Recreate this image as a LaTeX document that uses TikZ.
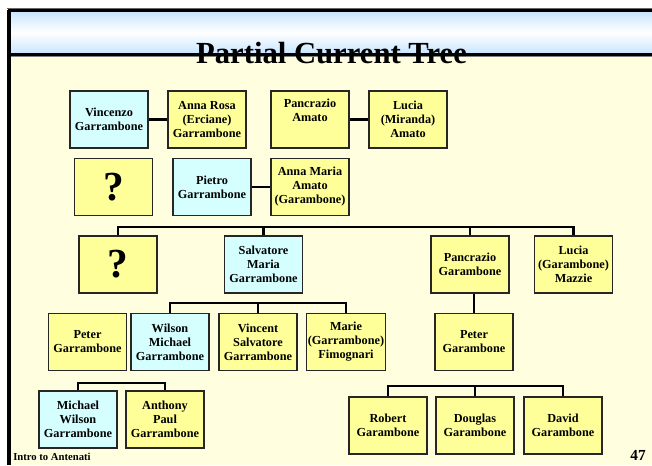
\documentclass[tikz,border=0pt]{standalone}
\usepackage{fontspec}
\setmainfont{Liberation Serif}
\definecolor{boxyellow}{HTML}{FFFF99}
\definecolor{boxblue}{HTML}{D5FFFF}
\definecolor{cream}{HTML}{FFFFE0}
\definecolor{headblue}{HTML}{C4E4FF}
\tikzset{
  person/.style={draw=black!85, line width=0.8pt, minimum width=58.5pt, minimum height=42.75pt,
    inner sep=1pt, align=center, font=\fontsize{9.2}{10.5}\selectfont\bfseries},
  yel/.style={person, fill=boxyellow},
  blu/.style={person, fill=boxblue},
  unk/.style={person, fill=boxyellow, font=\fontsize{31}{32}\selectfont\bfseries},
  link/.style={draw=black, line width=2pt},
}
\begin{document}
\begin{tikzpicture}[x=0.75pt,y=-0.75pt]
\useasboundingbox (0,0) rectangle (652,465);
\fill[white] (0,0) rectangle (652,465);
% background
\fill[cream] (7,55) rectangle (652,465);
\shade[top color=headblue, bottom color=headblue, middle color=white] (7,10) rectangle (652,55);
\draw[black!60, line width=1pt] (7,8.5) -- (652,8.5);
\draw[black, line width=2pt] (8,10.5) -- (652,10.5);
\draw[black, line width=2pt] (8,54.5) -- (652,54.5);
\draw[black!50, line width=1pt] (10,56.5) -- (652,56.5);
\draw[black, line width=3pt] (8.5,9.5) -- (8.5,465);
% title
\node[font=\fontsize{23}{25}\selectfont\bfseries, anchor=base] (title) at (331.5,63) {Partial Current Tree};
% row 1
\node[blu] (vincenzo) at (109,119.5) {Vincenzo\\Garrambone};
\node[yel] (annarosa) at (207,119.5) {Anna Rosa\\(Erciane)\\Garrambone};
\node[yel] (pancrazioa) at (310,119.5) {Pancrazio\\Amato\\\strut};
\node[yel] (luciaa) at (408,119.5) {Lucia\\(Miranda)\\Amato};
% row 2
\node[unk] (q1) at (113.5,187) {?};
\node[blu] (pietro) at (212,187) {Pietro\\Garrambone};
\node[yel] (annamaria) at (310,187) {Anna Maria\\Amato\\(Garambone)};
% row 3
\node[unk] (q2) at (118,264.5) {?};
\node[blu] (salvatore) at (263.5,264.5) {Salvatore\\Maria\\Garrambone};
\node[yel] (pancraziog) at (470,264.5) {Pancrazio\\Garambone};
\node[yel] (luciam) at (573.5,264.5) {Lucia\\(Garambone)\\Mazzie};
% row 4
\node[yel] (peterr) at (87.5,342) {Peter\\Garrambone};
\node[blu] (wilson) at (170,342) {Wilson\\Michael\\Garrambone};
\node[yel] (vincent) at (258,342) {Vincent\\Salvatore\\Garrambone};
\node[yel] (marie) at (346,342) {Marie\\(Garrambone)\\Fimognari};
\node[yel] (peterg) at (474,342) {Peter\\Garambone};
% row 5
\node[blu] (michael) at (78,419.5) {Michael\\Wilson\\Garrambone};
\node[yel] (anthony) at (165,419.5) {Anthony\\Paul\\Garrambone};
\node[yel] (robert) at (388,425.5) {Robert\\Garambone};
\node[yel] (douglas) at (475,425.5) {Douglas\\Garambone};
\node[yel] (david) at (563,425.5) {David\\Garambone};
% footer
\node[font=\fontsize{8}{9}\selectfont\bfseries, anchor=base west, inner sep=0pt] (footer) at (13,460) {Intro to Antenati};
\node[font=\fontsize{11.5}{12}\selectfont\bfseries, anchor=base east, inner sep=0pt] (page) at (646,460) {47};
% connectors
\draw[link] (vincenzo.east) -- (annarosa.west);
\draw[link] (pancrazioa.east) -- (luciaa.west);
\draw[link] (pietro.east) -- (annamaria.west);
\coordinate (bar1) at (0,227);
\draw[link] (q2.north) |- (luciam.north |- bar1) -- (luciam.north);
\draw[link] (salvatore.north) -- (salvatore.north |- bar1);
\draw[link] (pancraziog.north) -- (pancraziog.north |- bar1);
\draw[link] (peterg.north) -- (peterg.north |- pancraziog.south);
\coordinate (bar2) at (0,303);
\draw[link] (wilson.north) |- (marie.north |- bar2) -- (marie.north);
\draw[link] (vincent.north) -- (vincent.north |- bar2);
\coordinate (bar3) at (0,383);
\draw[link] (michael.north) |- (anthony.north |- bar3) -- (anthony.north);
\coordinate (bar4) at (0,386);
\draw[link] (robert.north) |- (david.north |- bar4) -- (david.north);
\draw[link] (douglas.north) -- (douglas.north |- bar4);
\end{tikzpicture}
\end{document}
